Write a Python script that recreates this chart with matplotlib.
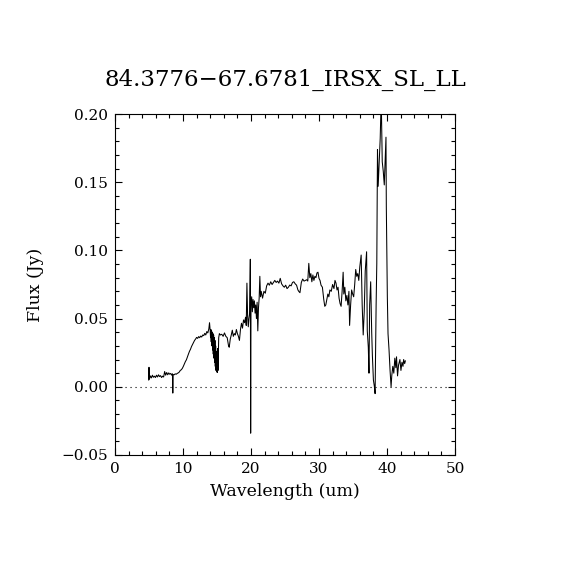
import numpy as np
import matplotlib
matplotlib.use("Agg")
import matplotlib.pyplot as plt
from matplotlib.ticker import MultipleLocator

title = "84.3776\u221267.6781_IRSX_SL_LL"

# wavelength (um) and flux (Jy)
wave = [
    4.95, 5.0, 5.05, 5.2, 5.35, 5.5, 5.65, 5.8, 5.95, 6.1, 6.25, 6.4, 6.55, 6.7, 6.85,
    7.0, 7.15, 7.3, 7.45, 7.6, 7.75, 7.9, 8.05, 8.2, 8.35, 8.45, 8.5, 8.55, 8.7, 8.85,
    9.0, 9.15, 9.3, 9.45, 9.6, 9.75, 9.9, 10.05, 10.2, 10.35, 10.5, 10.65, 10.8, 10.95,
    11.1, 11.25, 11.4, 11.55, 11.7, 11.85, 12.0, 12.15, 12.3, 12.45, 12.6, 12.75, 12.9,
    13.05, 13.2, 13.35, 13.5, 13.65, 13.8, 13.9, 14.0,
    14.05, 14.1, 14.15, 14.2, 14.25, 14.3, 14.35, 14.4, 14.45, 14.5, 14.55, 14.6, 14.65,
    14.7, 14.75, 14.8, 14.85, 14.9, 14.95, 15.0, 15.05, 15.1, 15.15, 15.25, 15.35,
    15.5, 15.7, 15.9, 16.1, 16.3, 16.5, 16.7, 16.8, 16.95, 17.1, 17.25, 17.4, 17.55,
    17.7, 17.85, 18.0, 18.15, 18.3, 18.45, 18.6, 18.75, 18.9, 19.05, 19.2, 19.3, 19.4,
    19.5, 19.6, 19.7, 19.8, 19.9, 19.95, 20.0, 20.1, 20.2, 20.3, 20.4, 20.5, 20.6, 20.7,
    20.8, 20.9, 21.0, 21.1, 21.2, 21.3, 21.4, 21.5, 21.7, 21.9, 22.1, 22.3, 22.5, 22.7,
    22.9, 23.1, 23.3, 23.5, 23.7, 23.9, 24.1, 24.3, 24.5, 24.7, 24.9, 25.1, 25.3, 25.5,
    25.7, 25.9, 26.1, 26.3, 26.5, 26.7, 26.9, 27.05, 27.2, 27.4, 27.6, 27.8, 28.0, 28.2,
    28.35, 28.5, 28.65, 28.8, 28.95, 29.1, 29.25, 29.4, 29.55, 29.7, 29.85, 30.0, 30.15,
    30.3, 30.5, 30.7, 30.85, 31.0, 31.15, 31.3, 31.45, 31.6, 31.8, 32.0, 32.2, 32.35,
    32.5, 32.65, 32.8, 32.95, 33.1, 33.25, 33.4, 33.55, 33.65, 33.8, 33.95, 34.1, 34.25,
    34.4, 34.5, 34.65, 34.8, 34.95, 35.1, 35.25, 35.4, 35.55, 35.7, 35.85, 36.0, 36.2,
    36.35, 36.5, 36.65, 36.8, 37.0, 37.1, 37.25, 37.35, 37.45, 37.6, 37.75, 37.85, 38.0,
    38.15, 38.25, 38.4, 38.5, 38.6, 38.7, 38.85, 39.0, 39.15, 39.3, 39.45, 39.6, 39.75,
    39.85, 39.9, 40.05, 40.15, 40.3, 40.45, 40.6, 40.7, 40.85, 41.0, 41.15, 41.3, 41.4,
    41.55, 41.7, 41.9, 42.05, 42.2, 42.35, 42.45, 42.6, 42.7,
]
flux = [
    0.005, 0.0143, 0.0055, 0.008, 0.0065, 0.0085, 0.007, 0.0078, 0.0068, 0.0085, 0.0072,
    0.0088, 0.0075, 0.0082, 0.0068, 0.0078, 0.0072, 0.0112, 0.0085, 0.0105, 0.0088,
    0.0102, 0.0092, 0.0098, 0.0085, 0.0095, -0.0046, 0.009, 0.0088, 0.0095, 0.0092,
    0.0098, 0.0102, 0.0108, 0.012, 0.0125, 0.0135, 0.015, 0.0168, 0.0185, 0.0198, 0.022,
    0.024, 0.026, 0.0275, 0.0295, 0.031, 0.0325, 0.034, 0.035, 0.0362, 0.0355, 0.0368,
    0.036, 0.0372, 0.0365, 0.038, 0.0375, 0.0392, 0.038, 0.0405, 0.0395, 0.0425, 0.047,
    0.041,
    0.036, 0.042, 0.033, 0.041, 0.030, 0.040, 0.027, 0.039, 0.024, 0.038, 0.021, 0.036,
    0.018, 0.034, 0.015, 0.030, 0.012, 0.026, 0.011, 0.020, 0.0105, 0.028, 0.012, 0.036,
    0.039,
    0.038, 0.0385, 0.037, 0.0395, 0.037, 0.036, 0.030, 0.029, 0.035, 0.038, 0.0415,
    0.037, 0.039, 0.038, 0.042, 0.039, 0.037, 0.034, 0.042, 0.0466, 0.043, 0.049, 0.047,
    0.051, 0.045, 0.076, 0.052, 0.044, 0.050, 0.054, 0.0935, -0.034, 0.060, 0.066, 0.055,
    0.064, 0.058, 0.063, 0.054, 0.060, 0.050, 0.062, 0.041, 0.058, 0.065, 0.081, 0.066,
    0.070, 0.065, 0.070, 0.0686, 0.074, 0.076, 0.0745, 0.077, 0.075, 0.0765, 0.078,
    0.0765, 0.0775, 0.076, 0.0795, 0.0755, 0.074, 0.073, 0.0745, 0.072, 0.073, 0.0746,
    0.074, 0.0765, 0.077, 0.0755, 0.0745, 0.071, 0.0698, 0.069, 0.0765, 0.079, 0.0775,
    0.078, 0.0785, 0.0775, 0.0905, 0.080, 0.083, 0.077, 0.082, 0.078, 0.081, 0.080,
    0.0835, 0.084, 0.0795, 0.078, 0.0745, 0.073, 0.064, 0.059, 0.060, 0.064, 0.068,
    0.066, 0.071, 0.070, 0.075, 0.072, 0.078, 0.076, 0.071, 0.073, 0.065, 0.061, 0.059,
    0.070, 0.084, 0.068, 0.073, 0.063, 0.067, 0.060, 0.070, 0.045, 0.060, 0.071, 0.068,
    0.066, 0.075, 0.086, 0.081, 0.083, 0.078, 0.088, 0.0966, 0.060, 0.038, 0.055, 0.085,
    0.099, 0.041, 0.029, 0.010, 0.060, 0.077, 0.040, 0.023, 0.005, 0.0, -0.005, 0.060,
    0.0905, 0.174, 0.147, 0.165, 0.182, 0.212, 0.165, 0.158, 0.148, 0.170, 0.183, 0.132,
    0.066, 0.039, 0.027, 0.012, 0.0, 0.008, 0.015, 0.010, 0.021, 0.014, 0.022, 0.008,
    0.016, 0.020, 0.012, 0.018, 0.015, 0.020, 0.017, 0.019,
]

plt.rcParams['font.family'] = 'DejaVu Serif'

fig = plt.figure(figsize=(5.7, 5.7), dpi=100)
ax = fig.add_axes([115 / 570, 115 / 570, 340 / 570, 341 / 570])

# spectrum and zero level
ax.plot(wave, flux, color='black', lw=0.75)
ax.axhline(0, color='black', lw=0.8, linestyle=(0, (1, 3.5)))

ax.set_xlim(0, 50)
ax.set_ylim(-0.05, 0.20)
ax.xaxis.set_major_locator(MultipleLocator(10))
ax.xaxis.set_minor_locator(MultipleLocator(2))
ax.yaxis.set_major_locator(MultipleLocator(0.05))
ax.yaxis.set_minor_locator(MultipleLocator(0.01))
ax.yaxis.set_major_formatter(plt.FuncFormatter(lambda v, p: f"{v:.2f}".replace('-', '\u2212')))

ax.tick_params(which='both', direction='in', top=True, right=True, width=0.8,
               labelsize=11)
ax.tick_params(which='major', length=5)
ax.tick_params(which='minor', length=3)
ax.tick_params(axis='x', pad=5)
ax.tick_params(axis='y', pad=5)
for sp in ax.spines.values():
    sp.set_linewidth(0.8)

ax.set_xlabel('Wavelength (um)', fontsize=12.5, va='center')
ax.xaxis.set_label_coords(0.5, -37 / 341)
ax.set_ylabel('Flux (Jy)', fontsize=12.5, va='center')
ax.yaxis.set_label_coords(-80 / 340, 0.5)

fig.text(0.5, 1 - 80 / 570, title, ha='center', va='center', fontsize=16.5)

fig.savefig('out.png', dpi=100)
